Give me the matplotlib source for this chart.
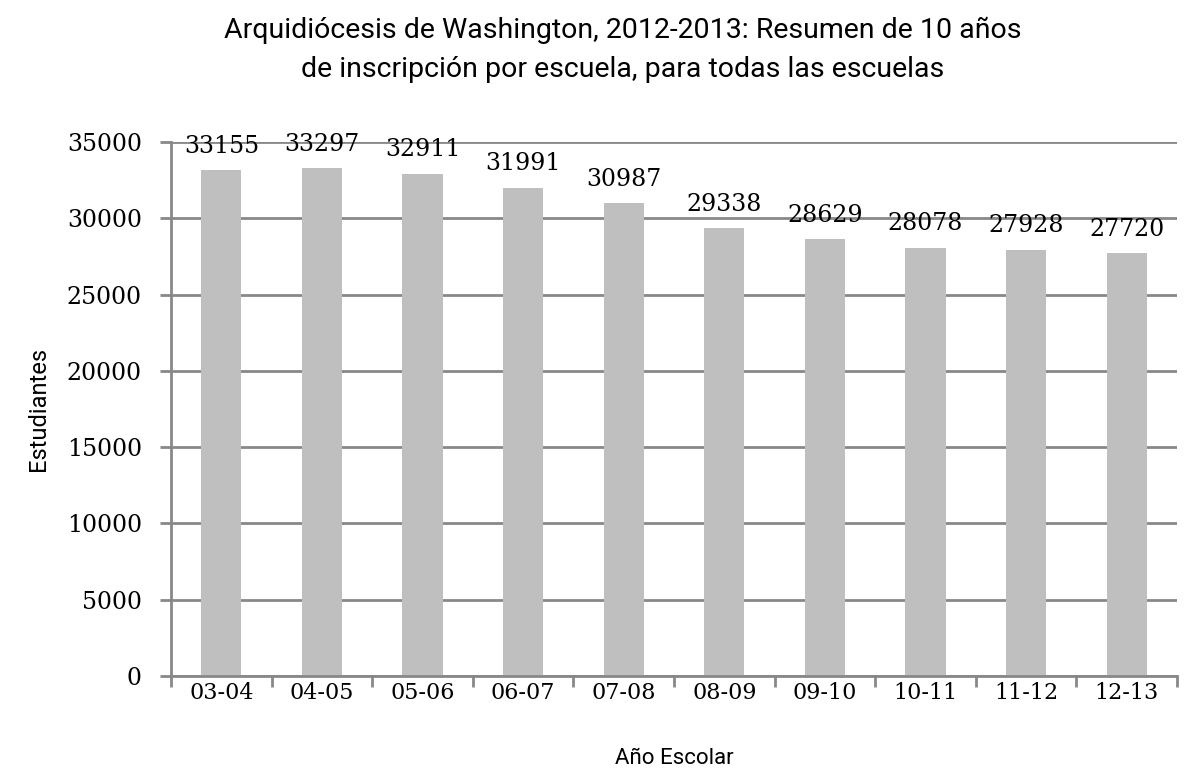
import matplotlib
matplotlib.use("Agg")
import matplotlib.pyplot as plt
import numpy as np
from matplotlib import font_manager as fm

categories = ["03-04", "04-05", "05-06", "06-07", "07-08", "08-09", "09-10", "10-11", "11-12", "12-13"]
values = [33155, 33297, 32911, 31991, 30987, 29338, 28629, 28078, 27928, 27720]
yticks = [0, 5000, 10000, 15000, 20000, 25000, 30000, 35000]

names = {f.name for f in fm.fontManager.ttflist}
sans = [f for f in ["Roboto", "DejaVu Sans"] if f in names]
serif = [f for f in ["DejaVu Serif", "Liberation Serif"] if f in names]

fig = plt.figure(figsize=(11.91, 7.72), dpi=100)
ax = fig.add_axes([0.1436, 0.1244, 0.8447, 0.6916])

x = np.arange(len(categories))
ax.bar(x, values, width=0.4, color="#bfbfbf", zorder=3)
ax.set_xlim(-0.5, len(categories) - 0.5)
ax.set_ylim(0, 35000)
ax.set_yticks(yticks)
ax.set_yticklabels([str(v) for v in yticks], family=serif, fontsize=17)
ax.set_xticks(x)
ax.set_xticklabels(categories, family=serif, fontsize=16)
ax.set_xticks(np.arange(-0.5, len(categories)), minor=True)
ax.tick_params(axis="x", which="major", length=0, pad=4)
ax.tick_params(axis="x", which="minor", length=8, width=2, color="#888888", direction="out")
ax.tick_params(axis="y", length=8, width=2, color="#888888", direction="out", pad=13)
ax.grid(axis="y", color="#888888", linewidth=2, zorder=1)
for s in ["top", "right"]:
    ax.spines[s].set_visible(False)
for s in ["left", "bottom"]:
    ax.spines[s].set_color("#888888")
    ax.spines[s].set_linewidth(2)
    ax.spines[s].set_zorder(4)

for xi, v in zip(x, values):
    ax.annotate(str(v), (xi, v), xytext=(0, 9), textcoords="offset points",
                ha="center", va="bottom", family=serif, fontsize=17, zorder=5)

ax.set_xlabel("Año Escolar", family=sans, fontsize=16, labelpad=32)
ax.set_ylabel("Estudiantes", family=sans, fontsize=17, labelpad=12)
fig.text(0.523, 0.935, "Arquidiócesis de Washington, 2012-2013: Resumen de 10 años\nde inscripción por escuela, para todas las escuelas",
         ha="center", va="center", family=sans, fontsize=20.5, linespacing=1.58)

fig.savefig("out.png", dpi=100)
